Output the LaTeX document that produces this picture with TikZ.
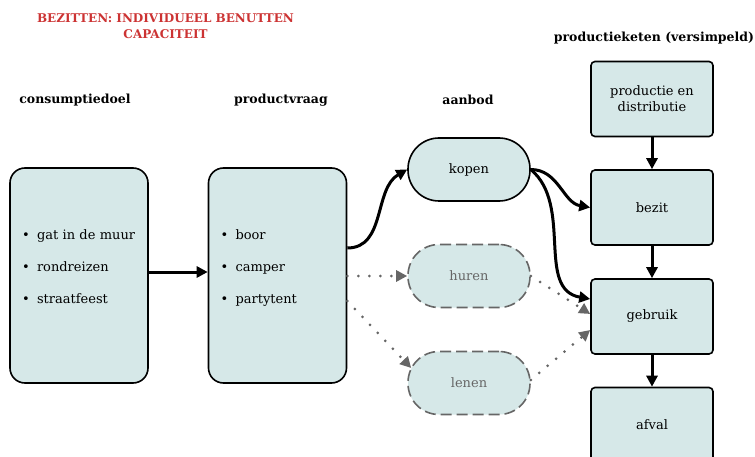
\documentclass[tikz,border=0pt]{standalone}
\usepackage{fontspec}
\setmainfont{DejaVu Serif}
\usepackage{tikz}
\usetikzlibrary{calc,arrows.meta,positioning}
\usepackage{xcolor}
\definecolor{boxfill}{RGB}{214,232,232}
\definecolor{optgray}{RGB}{102,102,102}
\definecolor{titlered}{RGB}{204,51,51}
\newcommand{\listdot}{\makebox[15pt][l]{\textbullet}}

\begin{document}
\begin{tikzpicture}[x=1pt,y=1pt,
		every node/.style={font=\fontsize{13}{16}\selectfont},
		header/.style={font=\fontsize{12.5}{16}\selectfont\bfseries},
		listbox/.style={draw,line width=1.6,fill=boxfill,rounded corners=15,minimum height=215,text width=114,inner xsep=12,text depth=82,align=left},
		chainbox/.style={draw,line width=1.6,fill=boxfill,rounded corners=4,minimum width=122,minimum height=75,align=center},
		pill/.style={draw,line width=1.6,fill=boxfill,rounded corners=31,minimum width=122,minimum height=63},
		optpill/.style={pill,draw=optgray,text=optgray,dash pattern=on 11pt off 5pt},
		flow/.style={-{Triangle[length=11pt,width=11pt]},line width=3},
		optflow/.style={-{Triangle[length=11pt,width=11pt]},line width=3,optgray,dash pattern=on 0pt off 11pt,line cap=round}]
				\useasboundingbox (0,0) rectangle (755,-457);
				\clip (0,0) rectangle (755,-457);
				
				% headings
				\node[header,text=titlered,align=center,font=\fontsize{12}{16}\selectfont\bfseries] (title) at (165.5,-26) {BEZITTEN: INDIVIDUEEL BENUTTEN\\CAPACITEIT};
				\node[header] (goalhead) at (75,-100) {consumptiedoel};
				\node[header] (demandhead) at (281,-100) {productvraag};
				\node[header] (offerhead) at (468,-100) {aanbod};
				\node[header] (chainhead) at (654,-38) {productieketen (versimpeld)};
				
				% consumptiedoel and productvraag
				\node[listbox] (goal) at (79,-275.5) {\listdot gat in de muur\\[16pt]\listdot rondreizen\\[16pt]\listdot straatfeest};
				\node[listbox] (demand) at (277.5,-275.5) {\listdot boor\\[16pt]\listdot camper\\[16pt]\listdot partytent};
				
				% aanbod
				\node[pill] (buy) at (469,-169.5) {kopen};
				\node[optpill] (rent) at (469,-276) {huren};
				\node[optpill] (borrow) at (469,-383) {lenen};
				
				% productieketen
				\node[chainbox] (make) at (652,-99) {productie en\\distributie};
				\node[chainbox] (own) at (652,-207.5) {bezit};
				\node[chainbox] (use) at (652,-316.5) {gebruik};
				\node[chainbox] (waste) at (652,-425) {afval};
				
				\draw[flow] ($(goal.east)+(0,3.5)$) -- ($(demand.west)+(0,3.5)$);
				\draw[flow] ($(demand.east)+(0,27.5)$) to[out=0,in=210] (buy.west);
				\draw[flow] (buy.east) to[out=0,in=170] (own.west);
				\draw[flow] (buy.east) to[out=-40,in=170] ($(use.west)+(0,17.5)$);
				\foreach \a/\b in {make/own,own/use,use/waste}
				\draw[flow] (\a) -- (\b);
				
				\draw[optflow] (demand.east |- rent.west) -- (rent.west);
				\draw[optflow] ($(demand.east)+(0,-25.5)$) -- ($(borrow.west)+(4,15)$);
				\draw[optflow] (rent.east) -- ($(use.west)+(0,2.5)$);
				\draw[optflow] ($(borrow.east)+(0,3)$) -- ($(use.west)+(0,-13.5)$);
			\end{tikzpicture}
\end{document}
